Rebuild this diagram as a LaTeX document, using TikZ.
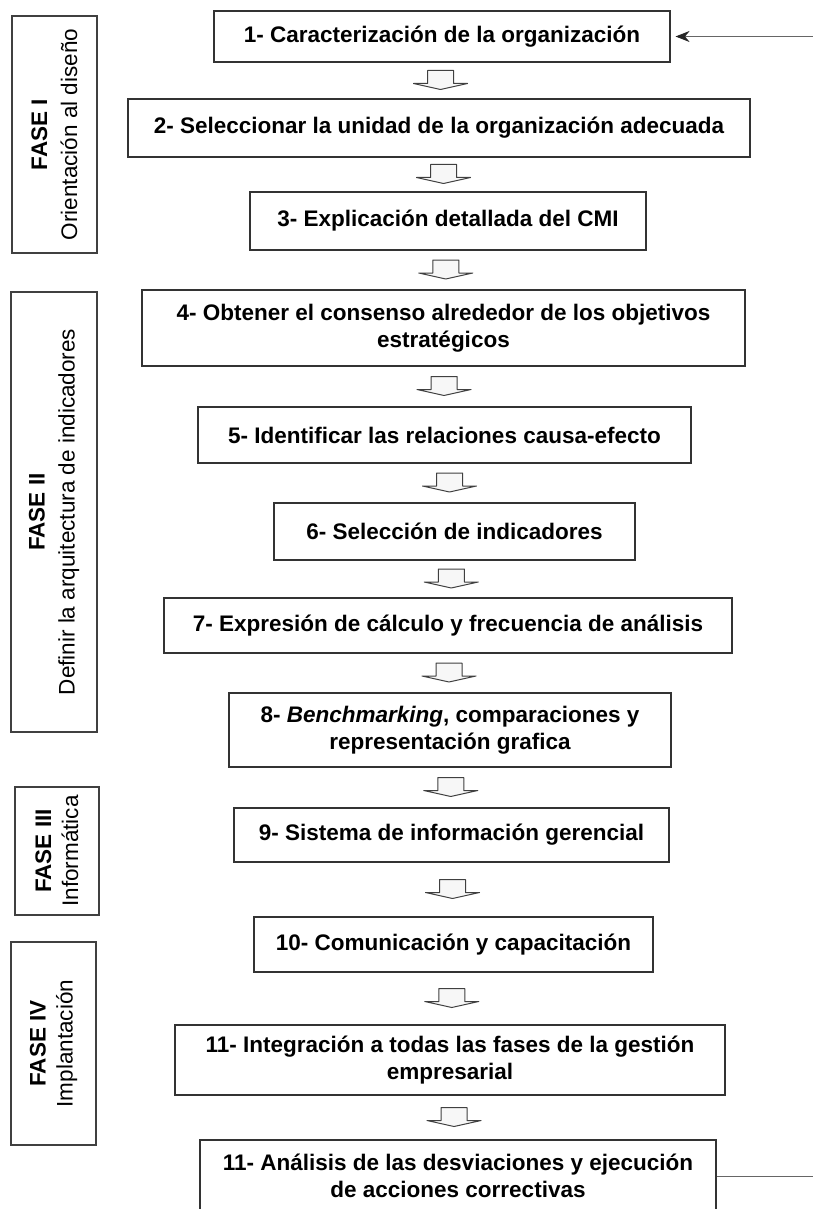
\documentclass[tikz,border=0pt]{standalone}
\usepackage{fontspec}
\setmainfont{Liberation Sans}
\usetikzlibrary{calc,arrows.meta}
\newcommand\boxfont{\fontsize{22.5}{27}\selectfont\bfseries}
\newcommand\phasefont{\fontsize{22.5}{27}\selectfont}
\newcommand\blkarrow[1]{\draw[barrow, shift={(#1)}] (-13,-10) -- (13,-10) -- (13,3) -- (27,3) -- (0,9) -- (-27,3) -- (-13,3) -- cycle;}
\begin{document}
\begin{tikzpicture}[x=1pt,y=-1pt,
  stepbox/.style={draw=black!80, line width=1.1pt, fill=white, align=center, inner sep=0pt, font=\boxfont},
  phasebox/.style={draw=black!75, line width=1.1pt, rotate=90, align=center, inner sep=0pt, font=\phasefont},
  barrow/.style={draw=black!75, line width=1pt, fill=black!3, line join=round},
  feedback/.style={draw=black!60, line width=1pt}]
\useasboundingbox[fill=white] (0,0) rectangle (812,1209);

% phase boxes
\node[phasebox, minimum width=237, minimum height=85] (f1) at (54.5,134.5) {{\bfseries FASE I}\\[3pt]Orientación al diseño};
\node[phasebox, minimum width=440, minimum height=86] (f2) at (54,512) {{\bfseries FASE II}\\[3pt]Definir la arquitectura de indicadores};
\node[phasebox, minimum width=128, minimum height=84] (f3) at (57,851) {{\bfseries FASE III}\\Informática};
\node[phasebox, minimum width=203, minimum height=85] (f4) at (53.5,1043.5) {{\bfseries FASE IV}\\Implantación};

% step boxes
\node[stepbox, minimum width=456, minimum height=51] (b1) at (442,36.5) {1- Caracterización de la organización};
\node[stepbox, minimum width=622, minimum height=58] (b2) at (439,128) {2- Seleccionar la unidad de la organización adecuada};
\node[stepbox, minimum width=396, minimum height=58] (b3) at (448,221) {3- Explicación detallada del CMI};
\node[stepbox, minimum width=603, minimum height=76] (b4) at (443.5,328) {4- Obtener el consenso alrededor de los objetivos\\estratégicos};
\node[stepbox, minimum width=493, minimum height=56] (b5) at (444.5,435) {5- Identificar las relaciones causa-efecto};
\node[stepbox, minimum width=361, minimum height=57] (b6) at (454.5,531.5) {6- Selección de indicadores};
\node[stepbox, minimum width=568, minimum height=55] (b7) at (448,625.5) {7- Expresión de cálculo y frecuencia de análisis};
\node[stepbox, minimum width=442, minimum height=74] (b8) at (450,730) {8- {\itshape Benchmarking}, comparaciones y\\representación grafica};
\node[stepbox, minimum width=435, minimum height=54] (b9) at (451.5,835) {9- Sistema de información gerencial};
\node[stepbox, minimum width=399, minimum height=55] (b10) at (453.5,944.5) {10- Comunicación y capacitación};
\node[stepbox, minimum width=550, minimum height=70] (b11) at (450,1060) {11- Integración a todas las fases de la gestión\\empresarial};
\node[stepbox, minimum width=516, minimum height=72] (b12) at (458,1176) {11- Análisis de las desviaciones y ejecución\\de acciones correctivas};

% block arrows between steps
\foreach \a/\b [count=\i] in {b1/b2,b2/b3,b3/b4,b4/b5,b5/b6,b6/b7,b7/b8,b8/b9,b9/b10,b10/b11,b11/b12}{
  \coordinate (m\i) at ($(\a.south)!0.5!(\b.north)$);
  \blkarrow{m\i}
}

% feedback loop
\coordinate (fbR) at (830,0);
\draw[feedback, -{Stealth[length=14pt,width=11pt,color=black!85,fill=black!85]}, shorten >=5pt]
  (b12.east) -- (b12.east -| fbR) -- (b1.east -| fbR) -- (b1.east);
\end{tikzpicture}
\end{document}
